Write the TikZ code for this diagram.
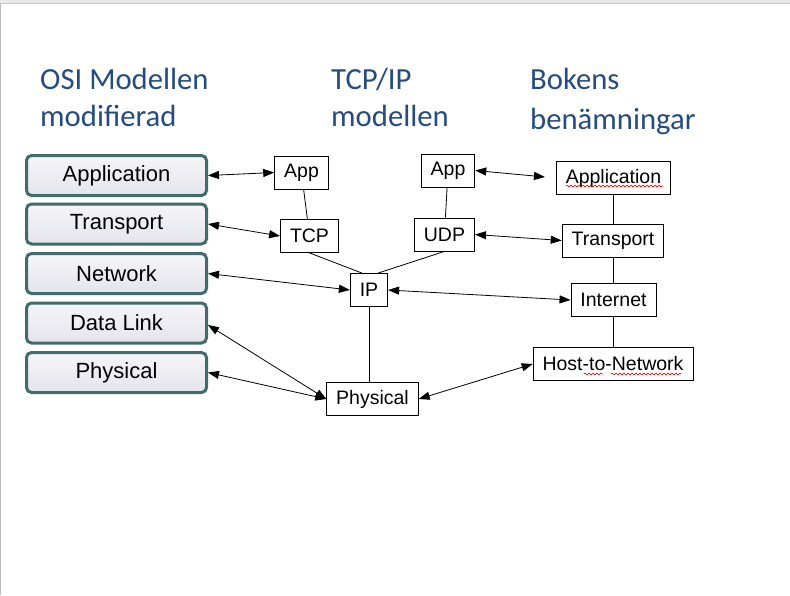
\documentclass[tikz,border=0pt]{standalone}
\usepackage{fontspec}
\setmainfont{Liberation Sans}
\newfontfamily\titlefont{Carlito}
\usepackage{tikz}
\usetikzlibrary{arrows.meta,decorations.pathmorphing,calc}
\usepackage{xcolor}
\definecolor{titlecol}{RGB}{36,76,128}
\definecolor{osiedge}{RGB}{66,108,106}
\definecolor{osifill}{RGB}{228,228,236}
\tikzset{
  % slide heading
  heading/.style={anchor=base west, inner sep=0pt, text=titlecol,
                  font=\titlefont\fontsize{30.7}{37}\selectfont},
  % osi layer box
  osibox/.style={rectangle, rounded corners=5pt, draw=osiedge, line width=3pt,
                 top color=osifill!35, bottom color=osifill,
                 minimum width=180pt, minimum height=40pt,
                 font=\fontsize{22}{26}\selectfont},
  % tcp/ip layer box
  layerbox/.style={rectangle, draw=black, line width=0.8pt, fill=white,
                   inner xsep=9.5pt, minimum height=33pt,
                   font=\fontsize{19.5}{24}\selectfont},
  % two way arrow
  maps/.style={{Triangle[length=11pt,width=8pt]}-{Triangle[length=11pt,width=8pt]},
               line width=0.8pt},
  % plain link
  link/.style={line width=0.8pt},
  % spell check squiggle
  squiggle/.style={red!85!black, line width=0.6pt,
                   decorate, decoration={snake, segment length=4pt, amplitude=0.9pt}},
}
\begin{document}
\begin{tikzpicture}[x=1pt,y=-1pt]
  \useasboundingbox (0,0) rectangle (790,595);
  % window frame
  \fill[gray!18] (0,0) rectangle (790,3);
  \draw[gray!45, line width=1pt] (0,3.5) -- (790,3.5);
  \draw[gray!55, line width=1.2pt] (0.6,4) -- (0.6,595);

  % headings
  \node[heading] (osiA) at (40,89) {OSI Modellen};
  \node[heading] (osiB) at (40,126) {modifierad};
  \node[heading] (tcpA) at (331,89) {TCP/IP};
  \node[heading] (tcpB) at (331,126) {modellen};
  \node[heading] (bokA) at (530,89) {Bokens};
  \node[heading] (bokB) at (530,129) {benämningar};

  % osi stack
  \node[osibox] (oapp) at (116.5,175.5) {Application};
  \node[osibox] (otr)  at (116.5,224)   {Transport};
  \node[osibox] (onet) at (116.5,273.5) {Network};
  \node[osibox] (odl)  at (116.5,323)   {Data Link};
  \node[osibox] (oph)  at (116.5,372.5) {Physical};

  % tcp/ip stack
  \node[layerbox] (app1) at (301.5,172.5) {App};
  \node[layerbox] (tcp)  at (309.5,236)   {TCP};
  \node[layerbox] (app2) at (448,170.5)   {App};
  \node[layerbox] (udp)  at (444.5,234.5) {UDP};
  \node[layerbox] (ip)   at (369,290)     {IP};
  \node[layerbox] (phys) at (372.5,399)   {Physical};

  % book names
  \node[layerbox] (bapp)  at (613.5,178) {Application};
  \node[layerbox] (btr)   at (613,240.5) {Transport};
  \node[layerbox] (binet) at (613.5,300) {Internet};
  \node[layerbox] (bhost) at (613,364)   {Host-to-Network};

  % links inside the models
  \draw[link] (app1) -- (tcp);
  \draw[link] (app2) -- (udp);
  \draw[link] (tcp.south) -- ([xshift=-7pt]ip.north);
  \draw[link] (udp.south) -- ([xshift=9pt]ip.north);
  \draw[link] (ip.south) -- (ip.south |- phys.north);
  \draw[link] (bapp.south) -- (bapp.south |- btr.north);
  \draw[link] (btr.south) -- (btr.south |- binet.north);
  \draw[link] (binet.south) -- (binet.south |- bhost.north);

  % mappings
  \draw[maps] (oapp.east) -- (app1.west);
  \draw[maps] (otr.east) -- (tcp.west);
  \draw[maps] (onet.east) -- (ip.west);
  \draw[maps] ([yshift=-2pt]odl.east) -- (phys.west);
  \draw[maps] (oph.east) -- (phys.west);
  \draw[maps, shorten >=11pt] (app2.east) -- (bapp.west);
  \draw[maps] (udp.east) -- (btr.west);
  \draw[maps] (ip.east) -- (binet.west);
  \draw[maps] (phys.east) -- (bhost.west);

  % spell check marks
  \draw[squiggle] ($(bapp.base west)+(10,3)$) -- ($(bapp.base east)+(-8,3)$);
  \draw[squiggle] ($(bhost.base west)+(51,3)$) -- ($(bhost.base west)+(70,3)$);
  \draw[squiggle] ($(bhost.base west)+(78,3)$) -- ($(bhost.base east)+(-12,3)$);
\end{tikzpicture}
\end{document}
